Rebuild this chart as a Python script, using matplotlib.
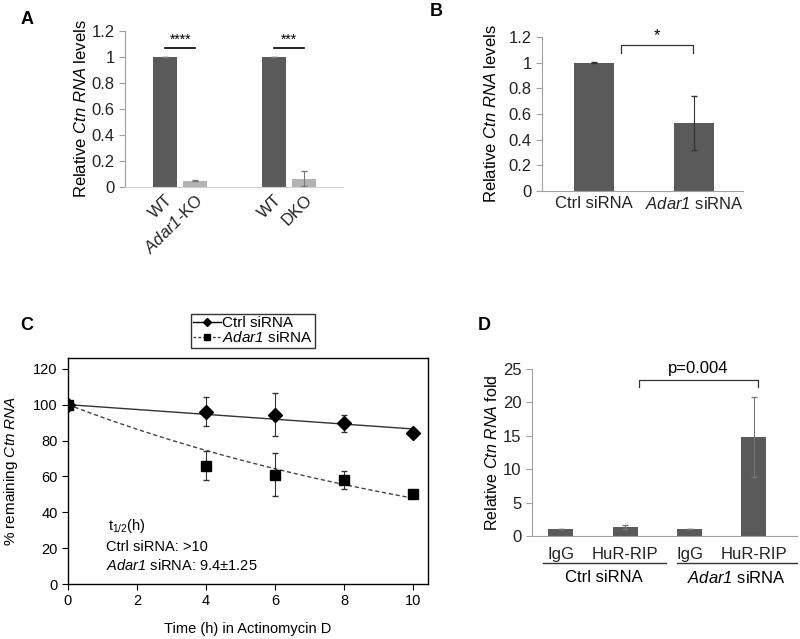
import numpy as np
import matplotlib
matplotlib.use("Agg")
import matplotlib.pyplot as plt
import matplotlib.transforms as mtransforms

plt.rcParams['font.family'] = ['Liberation Sans', 'DejaVu Sans']
plt.rcParams['mathtext.fontset'] = 'custom'
plt.rcParams['mathtext.rm'] = 'Liberation Sans'
plt.rcParams['mathtext.it'] = 'Liberation Sans:italic'
plt.rcParams['mathtext.sf'] = 'Liberation Sans:italic'

# Panel A data
a_labels = ['WT', r'$\mathsf{Adar1}$-KO', 'WT', 'DKO']
a_values = [1.0, 0.05, 1.0, 0.065]
a_errors = [0.0, 0.005, 0.0, 0.055]
a_stars = ['****', '***']

# Panel B data
b_labels = ['Ctrl siRNA', r'$\mathsf{Adar1}$ siRNA']
b_values = [1.0, 0.53]
b_errors = [0.003, 0.21]

# Panel C data
time_h = [0, 4, 6, 8, 10]
ctrl_pct = [100, 96, 94.5, 89.5, 84]
ctrl_err = [0, 8, 12, 4.5, 2]
adar_pct = [100, 66, 61, 58, 50]
adar_err = [0, 8, 12, 5, 2]

# Panel D data
d_labels = ['IgG', 'HuR-RIP', 'IgG', 'HuR-RIP']
d_values = [1.0, 1.35, 1.0, 14.8]
d_errors = [0.0, 0.25, 0.0, 6.0]
d_groups = ['Ctrl siRNA', r'$\mathsf{Adar1}$ siRNA']

W, H = 800, 639
fig = plt.figure(figsize=(8, 6.39), dpi=100)


def px_axes(left, top, right, bottom):
    return fig.add_axes([left / W, 1 - bottom / H, (right - left) / W, (bottom - top) / H])


dark = '#5a5a5a'
light = '#b3b3b3'
spine_c = '#a0a0a0'


def bar_style(ax):
    for s in ['top', 'right']:
        ax.spines[s].set_visible(False)
    ax.spines['left'].set_color(spine_c)
    ax.spines['bottom'].set_color(spine_c)
    ax.tick_params(axis='y', colors=spine_c, labelcolor='#222222', length=4, labelsize=12)
    ax.tick_params(axis='x', length=0, labelcolor='#222222')


ylab = r'Relative $\mathsf{Ctn}$ $\mathsf{RNA}$ levels'

# ---- A
axA = px_axes(125, 31, 343, 187)
xa = [0, 1, 3.57, 4.57]
axA.bar(xa, a_values, width=0.79, color=[dark, light, dark, light],
        yerr=a_errors, error_kw=dict(ecolor='#777777', elinewidth=0.8, capsize=2))
axA.set_xlim(-1.31, 5.84)
axA.set_ylim(0, 1.2)
axA.set_yticks([0, 0.2, 0.4, 0.6, 0.8, 1, 1.2])
axA.set_yticklabels(['0', '0.2', '0.4', '0.6', '0.8', '1', '1.2'])
axA.set_xticks(xa)
axA.set_xticklabels(a_labels, rotation=45, ha='right', va='top', rotation_mode='anchor', fontsize=12)
bar_style(axA)
axA.spines['bottom'].set_color('#d0d0d0')
axA.set_ylabel(ylab, fontsize=12, labelpad=2)
for i, st in enumerate(a_stars):
    x0, x1 = xa[2 * i], xa[2 * i + 1]
    axA.plot([x0, x1], [1.07, 1.07], color='black', lw=1.2, clip_on=False)
    axA.text((x0 + x1) / 2, 1.08, st, ha='center', va='bottom', fontsize=10)

# ---- B
axB = px_axes(542, 37, 743, 191)
xb = [0, 1]
axB.bar(xb, b_values, width=0.4, color=dark,
        yerr=b_errors, error_kw=dict(ecolor='#333333', elinewidth=0.8, capsize=2))
axB.set_xlim(-0.52, 1.49)
axB.set_ylim(0, 1.2)
axB.set_yticks([0, 0.2, 0.4, 0.6, 0.8, 1, 1.2])
axB.set_yticklabels(['0', '0.2', '0.4', '0.6', '0.8', '1', '1.2'])
axB.set_xticks(xb)
axB.set_xticklabels(b_labels, fontsize=12)
bar_style(axB)
axB.set_ylabel(ylab, fontsize=12, labelpad=7)
axB.plot([0.27, 0.27, 0.99, 0.99], [1.075, 1.135, 1.135, 1.075], color='#333333', lw=0.9, clip_on=False)
axB.text(0.63, 1.15, '*', ha='center', va='bottom', fontsize=12)

# ---- C
axC = px_axes(68, 358, 428, 584)
t = np.array(time_h, dtype=float)
tt = np.linspace(0, 10, 100)
# trendlines through the t=0 point (linear for ctrl, exponential for Adar1)
dx = t[1:] - t[0]
k_lin = np.sum(dx * (np.array(ctrl_pct[1:]) - ctrl_pct[0])) / np.sum(dx ** 2)
k_exp = np.sum(dx * np.log(np.array(adar_pct[1:]) / adar_pct[0])) / np.sum(dx ** 2)
axC.plot(tt, ctrl_pct[0] + k_lin * tt, color='#333333', lw=1.0)
axC.plot(tt, adar_pct[0] * np.exp(k_exp * tt), color='#444444', lw=1.0, ls=(0, (3, 2)))
axC.errorbar(t, ctrl_pct, yerr=ctrl_err, fmt='D', color='black', ms=7, ecolor='#333333',
             elinewidth=0.8, capsize=2)
axC.errorbar(t, adar_pct, yerr=adar_err, fmt='s', color='black', ms=7, ecolor='#333333',
             elinewidth=0.8, capsize=2)
axC.set_xlim(0, 10.43)
axC.set_ylim(0, 126)
axC.set_xticks([0, 2, 4, 6, 8, 10])
axC.set_yticks([0, 20, 40, 60, 80, 100, 120])
axC.tick_params(labelsize=10.5, length=4, direction='out')
for s in axC.spines.values():
    s.set_linewidth(1.0)
axC.set_ylabel(r'% remaining $\mathsf{Ctn}$ $\mathsf{RNA}$', fontsize=11, labelpad=9)
axC.set_xlabel('Time (h) in Actinomycin D', fontsize=10.5, labelpad=10)
axC.text(0.11, 0.255, r't$_{1/2}$(h)', transform=axC.transAxes, fontsize=10.5, va='center')
axC.text(0.105, 0.165, 'Ctrl siRNA: >10', transform=axC.transAxes, fontsize=10.5, va='center')
axC.text(0.105, 0.08, r'$\mathsf{Adar1}$ siRNA: 9.4±1.25', transform=axC.transAxes,
         fontsize=10.5, va='center')
h1, = axC.plot([], [], color='black', marker='D', ms=4, lw=1.0)
h2, = axC.plot([], [], color='#444444', marker='s', ms=4, lw=1.0, ls=(0, (2, 1.5)), mfc='black', mec='black')
leg = axC.legend([h1, h2], ['Ctrl siRNA', r'$\mathsf{Adar1}$ siRNA'], loc='center',
                 bbox_to_anchor=((253 - 68) / 360, (584 - 331) / 226), frameon=True, fancybox=False,
                 fontsize=11, handlelength=1.8, handletextpad=0.1, borderpad=0.15, labelspacing=0.0,
                 borderaxespad=0)
leg.get_frame().set_edgecolor('black')
leg.get_frame().set_linewidth(1.0)

# ---- D
axD = px_axes(532, 369, 797, 536)
xd = [0, 1, 2, 3]
axD.bar(xd, d_values, width=0.39, color=dark,
        yerr=d_errors, error_kw=dict(ecolor='#777777', elinewidth=0.8, capsize=2))
axD.set_xlim(-0.45, 3.67)
axD.set_ylim(0, 25)
axD.set_yticks([0, 5, 10, 15, 20, 25])
axD.set_xticks(xd)
axD.set_xticklabels(d_labels, fontsize=12)
bar_style(axD)
axD.tick_params(axis='x', pad=8)
axD.set_ylabel(r'Relative $\mathsf{Ctn}$ $\mathsf{RNA}$ fold', fontsize=11.5, labelpad=2)
axD.plot([1.22, 1.22, 3.07, 3.07], [22.3, 23.3, 23.3, 22.3], color='#333333', lw=0.9, clip_on=False)
axD.text(2.14, 24.0, 'p=0.004', ha='center', va='bottom', fontsize=12)
tr = mtransforms.blended_transform_factory(axD.transData, axD.transAxes)
for (x0, x1), g in zip([(-0.28, 1.63), (1.80, 3.67)], d_groups):
    axD.plot([x0, x1], [-0.162, -0.162], color='#333333', lw=1.0, transform=tr, clip_on=False)
    axD.text((x0 + x1) / 2, -0.25, g, transform=tr, ha='center', va='center', fontsize=12)

# panel letters
for lab, x, y in [('A', 27, 20), ('B', 436, 12), ('C', 27, 325), ('D', 484, 325)]:
    fig.text(x / W, 1 - y / H, lab, fontsize=13, fontweight='bold', ha='center', va='center')

fig.savefig('out.png', dpi=100)
